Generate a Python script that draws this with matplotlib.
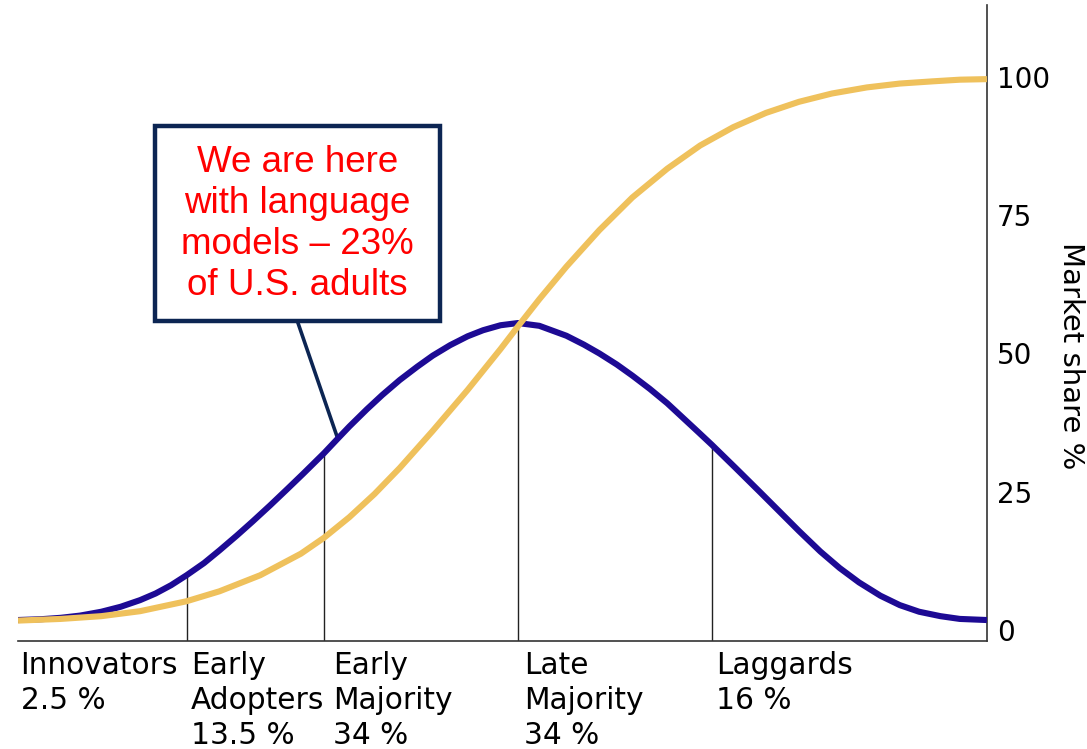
import matplotlib
matplotlib.use("Agg")
import matplotlib.pyplot as plt
from matplotlib.patches import Rectangle

# Adoption timeline in standard deviations from the mean
adopt_x = [-2.58, -2.46, -2.36, -2.26, -2.15, -2.05, -1.95, -1.87, -1.79, -1.71,
           -1.62, -1.54, -1.45, -1.37, -1.28, -1.19, -1.11, -1.0, -0.93, -0.87,
           -0.78, -0.70, -0.61, -0.52, -0.44, -0.35, -0.26, -0.18, -0.09, 0.0,
           0.11, 0.25, 0.34, 0.42, 0.51, 0.59, 0.68, 0.77, 0.85, 0.93,
           1.0, 1.12, 1.25, 1.35, 1.45, 1.56, 1.66, 1.76, 1.87, 1.97,
           2.07, 2.18, 2.28, 2.42]
# Bell curve (share of adopters)
adopters = [1.8, 1.95, 2.2, 2.6, 3.3, 4.2, 5.4, 6.6, 8.1, 9.9,
            12.1, 14.4, 17.1, 19.6, 22.5, 25.5, 28.2, 32.0, 34.6, 36.8,
            39.9, 42.5, 45.2, 47.6, 49.6, 51.5, 53.1, 54.2, 55.1, 55.5,
            55.0, 53.2, 51.6, 50.0, 48.0, 46.0, 43.6, 41.0, 38.4, 35.8,
            33.5, 29.4, 24.9, 21.4, 17.9, 14.2, 11.2, 8.6, 6.2, 4.5,
            3.3, 2.5, 2.0, 1.8]

# S curve (market share %)
share_x = [-2.58, -2.36, -2.15, -1.95, -1.71, -1.54, -1.33, -1.12, -1.0, -0.87,
           -0.74, -0.61, -0.44, -0.26, -0.09, 0.0, 0.11, 0.25, 0.42, 0.59,
           0.77, 0.94, 1.11, 1.28, 1.45, 1.62, 1.80, 1.97, 2.14, 2.28,
           2.42]
market_share = [1.7, 2.0, 2.5, 3.4, 5.2, 7.0, 9.9, 13.8, 16.7, 20.4,
                24.6, 29.3, 36.0, 43.4, 50.8, 54.9, 59.8, 65.7, 72.3, 78.2,
                83.4, 87.6, 90.9, 93.5, 95.5, 97.0, 98.1, 98.8, 99.2, 99.5,
                99.6]

# Dividers between groups (x position, height where it meets the bell curve)
divider_x = [-1.71, -1.0, 0.0, 1.0]
divider_top = [9.9, 32.0, 55.5, 33.5]

group_labels = ["Innovators\n2.5 %", "Early\nAdopters\n13.5 %", "Early\nMajority\n34 %",
                "Late\nMajority\n34 %", "Laggards\n16 %"]
group_label_x = [-2.567, -1.686, -0.954, 0.031, 1.021]

y_ticks = [0, 25, 50, 75, 100]

note = "We are here\nwith language\nmodels \u2013 23%\nof U.S. adults"

fig = plt.figure(figsize=(10.87, 7.49), dpi=100)
ax = fig.add_axes([0.01656, 0.1442, 0.8914, 0.8491])

ax.set_xlim(-2.58, 2.42)
ax.set_ylim(-1.99, 113)

for x, top in zip(divider_x, divider_top):
    ax.plot([x, x], [-1.99, top], color="#222222", lw=1.0, zorder=1)

ax.plot(adopt_x, adopters, color="#1d0a94", lw=4.4, solid_capstyle="butt",
        solid_joinstyle="round", zorder=3)
ax.plot(share_x, market_share, color="#efc15c", lw=4.4, solid_capstyle="butt",
        solid_joinstyle="round", zorder=4)

# spines: only bottom and right
for side in ["left", "top"]:
    ax.spines[side].set_visible(False)
ax.spines["bottom"].set_color("#333333")
ax.spines["right"].set_color("#333333")
ax.spines["bottom"].set_linewidth(1.2)
ax.spines["right"].set_linewidth(1.2)

ax.set_xticks([])
ax.yaxis.tick_right()
ax.set_yticks(y_ticks)
ax.tick_params(axis="y", length=0, pad=7, labelsize=20)
ax.text(1.0867, 0.448, "Market share %", transform=ax.transAxes, rotation=270,
        ha="center", va="center", fontsize=21)

# group labels under the axis
trans = ax.get_xaxis_transform()
for lbl, x in zip(group_labels, group_label_x):
    ax.text(x, -0.016, lbl, transform=trans, ha="left", va="top",
            fontsize=21.3, linespacing=1.25, color="black")

# callout box
ax.add_patch(Rectangle((-1.871, 55.9), 1.469, 35.2, facecolor="white",
                       edgecolor="#0c2553", lw=3.2, zorder=5))
ax.text(-1.137, 73.4, note, ha="center", va="center", color="#ff0000",
        fontsize=26.5, family="Liberation Sans", linespacing=1.22, zorder=6)
ax.plot([-1.139, adopt_x[18]], [55.9, adopters[18]], color="#0c2553", lw=2.6,
        zorder=2)

fig.savefig("out.png", dpi=100)
